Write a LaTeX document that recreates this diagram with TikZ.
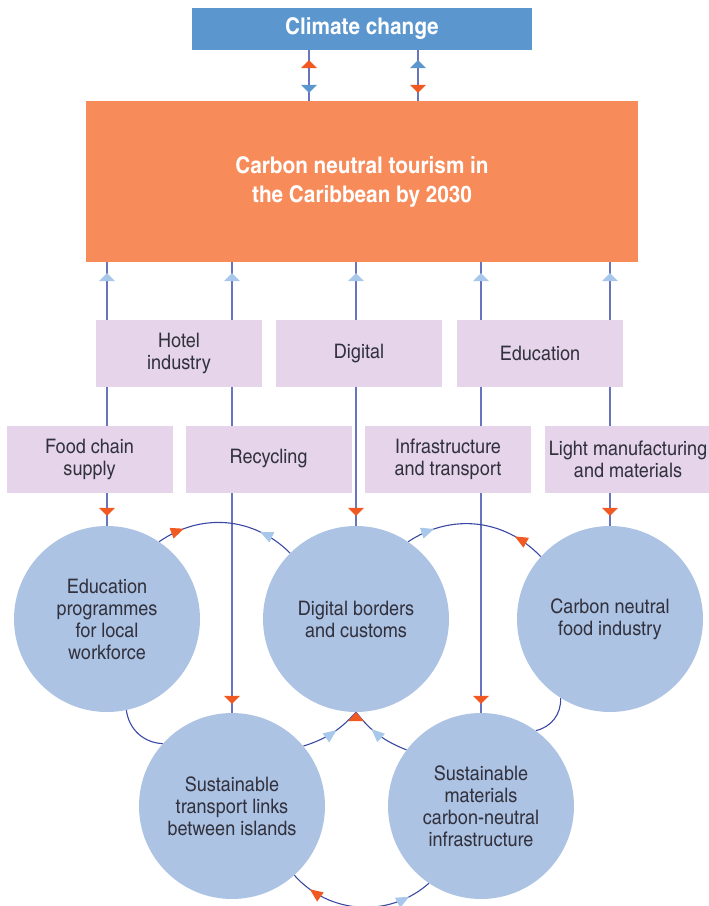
\documentclass[tikz,border=0pt]{standalone}
\usepackage{fontspec}
\setmainfont{texgyreheroscn}[Extension=.otf, UprightFont=*-regular, BoldFont=*-bold, FakeStretch=1.1]
\usetikzlibrary{arrows.meta,decorations.markings,backgrounds}
\definecolor{climblue}{RGB}{91,150,207}
\definecolor{goalorange}{RGB}{247,139,90}
\definecolor{sectorpink}{RGB}{230,213,234}
\definecolor{hubblue}{RGB}{173,195,228}
\definecolor{tipred}{RGB}{240,90,34}
\definecolor{tippale}{RGB}{167,200,234}
\definecolor{linkc}{RGB}{104,116,190}
\definecolor{ringc}{RGB}{58,72,165}
\definecolor{txt}{RGB}{50,50,62}
\tikzset{
  sector/.style={fill=sectorpink, minimum width=166pt, minimum height=67pt, inner sep=0pt,
    align=center, text=txt, font=\fontsize{20}{22}\selectfont},
  hub/.style={circle, fill=hubblue, minimum size=186pt, inner sep=0pt,
    align=center, text=txt, font=\fontsize{20}{22}\selectfont},
  link/.style={draw=linkc, line width=1.1pt},
  ring/.style={draw=ringc, line width=1.1pt},
  headat/.style 2 args={postaction={decorate,decoration={markings,mark=at position #1 with {#2}}}},
  redflat/.tip={Triangle[width=16pt,length=8pt,color=tipred]},
  blueflat/.tip={Triangle[width=16pt,length=8pt,color=climblue]},
  paleflat/.tip={Triangle[width=16pt,length=8pt,color=tippale]},
  redsharp/.tip={Triangle[width=11pt,length=13pt,color=tipred]},
  palesharp/.tip={Triangle[width=11pt,length=13pt,color=tippale]}
}
\begin{document}
\begin{tikzpicture}[x=1pt, y=-1pt]
  \useasboundingbox (0,0) rectangle (709,906);
  \node[fill=climblue, minimum width=340pt, minimum height=42pt, inner sep=0pt, text=white,
    font=\bfseries\fontsize{23}{26}\selectfont] (climate) at (362,29) {Climate change};
  \node[fill=goalorange, minimum width=552pt, minimum height=161pt, inner sep=0pt, text=white,
    align=center, font=\bfseries\fontsize{23}{29}\selectfont] (goal) at (362,181.5)
    {Carbon neutral tourism in\\the Caribbean by 2030};
  \node[sector] (hotel) at (179,353.5) {Hotel\\industry};
  \node[sector] (digital) at (359,353.5) {Digital};
  \node[sector] (education) at (540,353.5) {Education};
  \node[sector] (foodchain) at (89.5,459) {Food chain\\supply};
  \node[sector] (recycling) at (268.5,459) {Recycling};
  \node[sector] (infra) at (448,459) {Infrastructure\\and transport};
  \node[sector] (lightman) at (628,459) {Light manufacturing\\and materials};
  \node[hub] (edu) at (107,619) {Education\\programmes\\for local\\workforce};
  \node[hub] (border) at (356,619) {Digital borders\\and customs};
  \node[hub] (food) at (610,619) {Carbon neutral\\food industry};
  \node[hub] (transport) at (232,806) {Sustainable\\transport links\\between islands};
  \node[hub] (materials) at (481,806) {Sustainable\\materials\\carbon-neutral\\infrastructure};
  \fill[tipred] (border.south) -- ++(8,9) -- ++(-16,0) -- cycle;
  \begin{scope}[on background layer]
    \draw[link, headat={10pt}{\arrowreversed{redflat}}, headat={-8pt}{\arrow{blueflat}}]
      ([xshift=-53pt]climate.south) -- ([xshift=-53pt]goal.north);
    \draw[link, headat={10pt}{\arrowreversed{blueflat}}, headat={-8pt}{\arrow{redflat}}]
      ([xshift=56pt]climate.south) -- ([xshift=56pt]goal.north);
    \foreach \hubname/\gap in {edu/10pt, border/10pt, food/10pt, transport/9pt, materials/9pt}
      \draw[link, headat={11pt}{\arrowreversed{paleflat}}, headat={-\gap}{\arrow{redflat}}]
        (goal.south -| \hubname) -- (\hubname.north);
    \draw[ring, headat={28pt}{\arrow{redsharp}}, headat={-37pt}{\arrowreversed{palesharp}}]
      (edu.56) to[bend left=40] (border.135);
    \draw[ring, headat={29pt}{\arrow{palesharp}}, headat={-33pt}{\arrowreversed{redsharp}}]
      (border.56) to[bend left=40] (food.138);
    \draw[ring] (edu.-78) to[bend right=40] (transport.138);
    \draw[ring] (food.238) to[bend left=40] (materials.54);
    \draw[ring, headat={0.58}{\arrow{palesharp}}] (transport.40) to[bend right=15] (border.south);
    \draw[ring, headat={0.36}{\arrowreversed{palesharp}}] (border.south) to[bend right=15] (materials.143);
    \draw[ring, headat={21pt}{\arrowreversed{redsharp}}, headat={-24pt}{\arrow{palesharp}}]
      (transport.-48) to[bend right=45] (materials.-124);
  \end{scope}
\end{tikzpicture}
\end{document}
